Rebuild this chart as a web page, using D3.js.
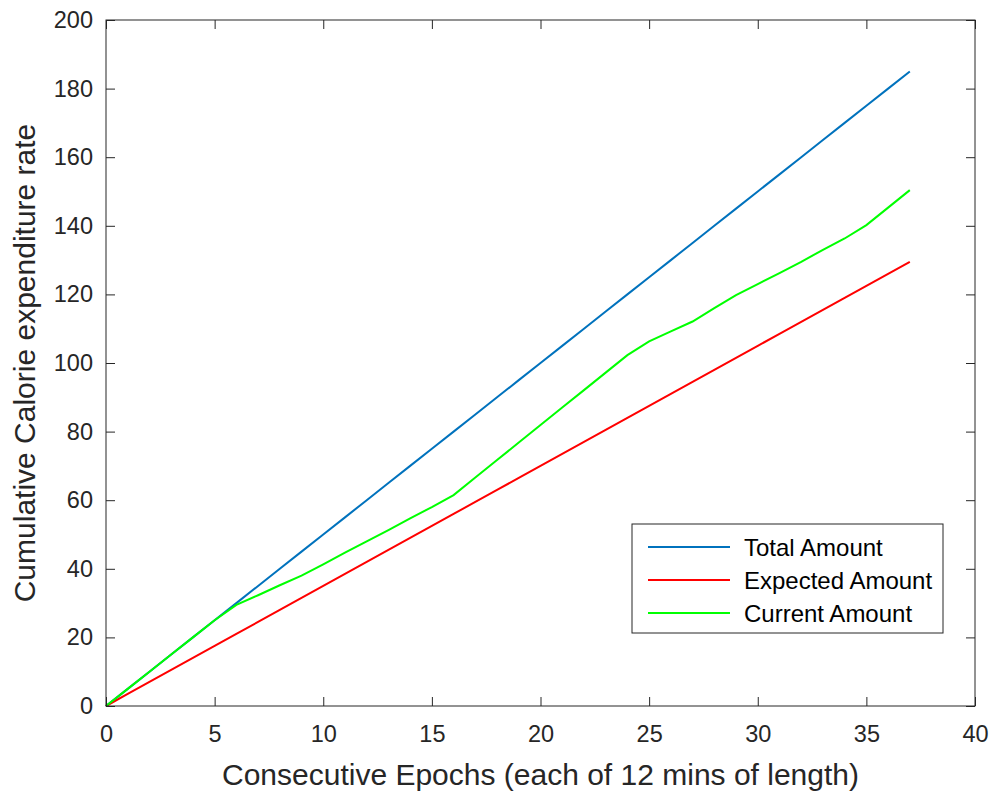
<!DOCTYPE html>
<html><head><meta charset="utf-8">
<script src="https://cdn.jsdelivr.net/npm/d3@7"></script>
<style>body{margin:0;background:#fff}svg{display:block}text{font-family:"Liberation Sans",Arial,sans-serif;fill:#262626}</style>
</head><body>
<script>
const epochs = d3.range(0, 38);
const totalAmount = epochs.map(e => e * 5);
const expectedAmount = epochs.map(e => e * 3.5);
const currentAmount = [0,5,10,15,20,25,29.5,32.3,35.2,38,41.3,44.7,48,51.3,54.7,58,61.5,66.6,71.7,76.8,81.9,87,92.1,97.2,102.3,106.3,109.2,112.1,116,119.8,123,126.2,129.5,133,136.3,140.2,145.3,150.4];
const xTicks = [0,5,10,15,20,25,30,35,40];
const yTicks = [0,20,40,60,80,100,120,140,160,180,200];
const seriesNames = ["Total Amount","Expected Amount","Current Amount"];
const seriesColors = ["#0072BD","#FF0000","#00FF00"];

const W = 991, H = 791;
const m = {l:106, t:20, r:W-975, b:H-706};
const svg = d3.select("body").append("svg").attr("width",W).attr("height",H);
const x = d3.scaleLinear().domain([0,40]).range([m.l, W-m.r]);
const y = d3.scaleLinear().domain([0,200]).range([H-m.b, m.t]);
const g = svg.append("g");

const series = [totalAmount, expectedAmount, currentAmount];
const line = d3.line().x((d,i)=>x(epochs[i])).y(d=>y(d));
series.forEach((s,k)=>{
  g.append("path").datum(s).attr("d",line).attr("fill","none")
   .attr("stroke",seriesColors[k]).attr("stroke-width",2);
});

const axCol = "#262626";
const tl = 9;
function styleAxis(sel){
  sel.select(".domain").remove();
  sel.selectAll("line").attr("stroke",axCol).attr("stroke-width",1);
  sel.selectAll("text").attr("font-size","23.5px").style("fill",axCol);
}
// bottom
svg.append("g").attr("transform",`translate(0,${y(0)})`)
  .call(d3.axisBottom(x).tickValues(xTicks).tickSize(-tl).tickPadding(19).tickFormat(d3.format("d")))
  .call(styleAxis);
// top
svg.append("g").attr("transform",`translate(0,${y(200)})`)
  .call(d3.axisTop(x).tickValues(xTicks).tickSize(-tl).tickFormat(""))
  .call(styleAxis);
// left
svg.append("g").attr("transform",`translate(${x(0)},0)`)
  .call(d3.axisLeft(y).tickValues(yTicks).tickSize(-tl).tickPadding(13).tickFormat(d3.format("d")))
  .call(styleAxis);
// right
svg.append("g").attr("transform",`translate(${x(40)},0)`)
  .call(d3.axisRight(y).tickValues(yTicks).tickSize(-tl).tickFormat(""))
  .call(styleAxis);
// box
svg.append("rect").attr("x",x(0)).attr("y",y(200)).attr("width",x(40)-x(0)).attr("height",y(0)-y(200))
  .attr("fill","none").attr("stroke",axCol).attr("stroke-width",1);

// axis labels
svg.append("text").attr("x",(x(0)+x(40))/2).attr("y",785).attr("text-anchor","middle")
  .attr("font-size","30px").text("Consecutive Epochs (each of 12 mins of length)");
svg.append("text").attr("transform",`translate(35,${(y(0)+y(200))/2}) rotate(-90)`).attr("text-anchor","middle")
  .attr("font-size","30px").text("Cumulative Calorie expenditure rate");

// legend
const lg = svg.append("g");
lg.append("rect").attr("x",632).attr("y",524).attr("width",311).attr("height",109)
  .attr("fill","#fff").attr("stroke",axCol).attr("stroke-width",1);
seriesNames.forEach((n,k)=>{
  const yy = 547 + k*33;
  lg.append("line").attr("x1",648).attr("x2",730).attr("y1",yy).attr("y2",yy)
    .attr("stroke",seriesColors[k]).attr("stroke-width",2);
  lg.append("text").attr("x",744).attr("y",yy+8.5).attr("font-size","24px").style("fill","#000").text(n);
});
</script>
</body></html>
